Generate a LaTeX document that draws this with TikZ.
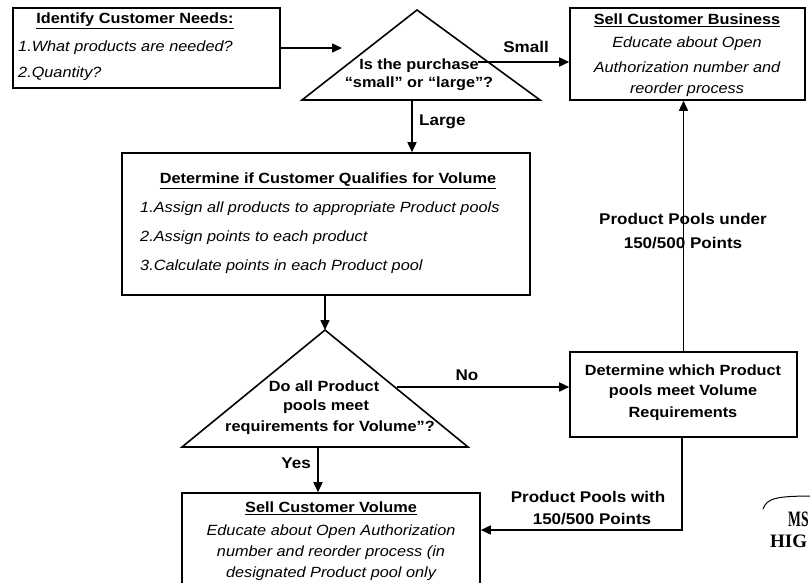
\documentclass[tikz,border=0pt]{standalone}
\usepackage{fontspec}
\setmainfont{Liberation Sans}[FakeStretch=1.1]
\newfontfamily\stampfont{Liberation Serif}[FakeStretch=0.62]
\newfontfamily\higfont{Liberation Serif}
\usetikzlibrary{arrows.meta,positioning}

\begin{document}
\begin{tikzpicture}[x=1pt,y=-1pt,
  box/.style={draw, line width=1.6pt, inner sep=0pt},
  tri/.style={draw, line width=1.6pt, line join=miter},
  arr/.style={line width=1.6pt, -{Triangle[length=10pt,width=9pt]}},
  head/.style={inner sep=0pt, font=\fontsize{14.8}{17}\selectfont\bfseries},
  item/.style={inner sep=0pt, font=\fontsize{14.8}{17}\selectfont\itshape},
  lbl/.style={inner sep=0pt, font=\fontsize{15.5}{18}\selectfont\bfseries},
  stamp/.style={inner sep=0pt, font=\stampfont\fontsize{22}{22}\selectfont\bfseries}]
\useasboundingbox (0,0) rectangle (810,582);
\clip (0,0) rectangle (810,582);

% boxes
\node[box, minimum width=267pt, minimum height=80pt] (needs) at (146.5,48) {};
\node[box, minimum width=235pt, minimum height=92pt] (sell) at (687.5,54) {};
\node[box, minimum width=408pt, minimum height=142pt] (qualify) at (326,224) {};
\node[box, minimum width=227pt, minimum height=85pt] (which) at (683.5,394.5) {};
\node[box, minimum width=298pt, minimum height=117pt] (volume) at (331,551.5) {};

% decision triangles
\coordinate (q1top) at (417,10);
\coordinate (q1l) at (302,100);
\coordinate (q1r) at (540,100);
\draw[tri] (q1top) -- (q1r) -- (q1l) -- cycle;
\coordinate (q2top) at (325,330);
\coordinate (q2l) at (182,447);
\coordinate (q2r) at (468,447);
\draw[tri] (q2top) -- (q2r) -- (q2l) -- cycle;

% texts
\node[head] (needsH) at (135,21) {\underline{Identify Customer Needs:}};
\foreach \t [count=\i] in {1.What products are needed?, 2.Quantity?}
    \node[item, anchor=west] (needs\i) at (18,22+26*\i) {\t};
\node[head] (sellH) at (687,20) {\underline{Sell Customer Business}};
\foreach \t [count=\i] in {Educate about Open, Authorization number and, reorder process}
    \node[item] (sell\i) at (687,21+23*\i) {\t};
\node[head] (qualifyH) at (328,181) {\underline{Determine if Customer Qualifies for Volume}};
\foreach \t [count=\i] in {1.Assign all products to appropriate Product pools,
                          2.Assign points to each product,
                          3.Calculate points in each Product pool}
    \node[item, anchor=west] (qualify\i) at (140,180+29*\i) {\t};
\foreach \t [count=\i] in {Determine which Product, pools meet Volume, Requirements}
    \node[head] (which\i) at (683,348+22*\i) {\t};
\node[head] (volumeH) at (331,508) {\underline{Sell Customer Volume}};
\foreach \t [count=\i] in {Educate about Open Authorization, number and reorder process (in,
                          designated Product pool only}
    \node[item] (volume\i) at (331,511+21*\i) {\t};
\node[head] (q1a) at (419,66) {Is the purchase};
\node[head] (q1b) at (419,84) {“small” or “large”?};
\node[head] (q2a) at (324,386) {Do all Product};
\node[head] (q2b) at (326,407) {pools meet};
\node[head] (q2c) at (330,428) {requirements for Volume”?};

% connectors
\coordinate (q1in) at (342,48);
\draw[arr] (needs.east |- q1in) -- (q1in);
\coordinate (q1out) at (478,62);
\draw[arr] (q1out) -- (q1out -| sell.west);
\node[lbl] (small) at (526,47) {Small};
\coordinate (q1bot) at (412,100);
\draw[arr] (q1bot) -- (q1bot |- qualify.north);
\node[lbl, anchor=west] (large) at (419,122) {Large};
\draw[arr] (qualify.south -| q2top) -- (q2top);
\coordinate (q2out) at (397,387);
\draw[arr] (q2out) -- (q2out -| which.west);
\node[lbl] (no) at (467,375) {No};
\coordinate (q2bot) at (318,447);
\draw[arr] (q2bot) -- (q2bot |- volume.north);
\node[lbl, anchor=east] (yes) at (311,463) {Yes};
\draw[arr] (which.north) -- (which.north |- sell.south);
\node[lbl] (under1) at (683,219) {Product Pools under};
\node[lbl] (under2) at (683,243) {150/500 Points};
\coordinate (bend) at (682,530);
\draw[arr] (which.south -| bend) -- (bend) -- (bend -| volume.east);
\node[lbl] (with1) at (588,497) {Product Pools with};
\node[lbl] (with2) at (592,519) {150/500 Points};

% stamp at the edge
\draw[line width=1pt] (763,509) .. controls (767,498) and (776,496) .. (815,496);
\node[stamp, anchor=west] (ms) at (788,519) {MS};
\node[stamp, anchor=west, font=\higfont\fontsize{19}{19}\selectfont\bfseries] (hig) at (770,541) {HIG};
\end{tikzpicture}
\end{document}
